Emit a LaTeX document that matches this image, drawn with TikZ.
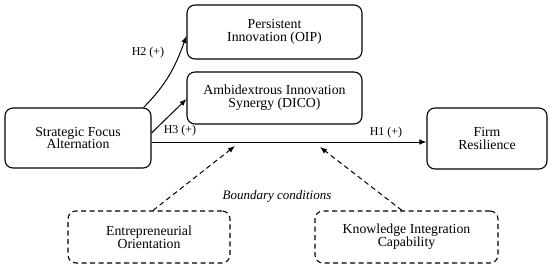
\documentclass[tikz,border=0pt]{standalone}
\usepackage{fontspec}
\setmainfont{Liberation Serif}
\usetikzlibrary{arrows.meta}
\begin{document}
\begin{tikzpicture}[x=1pt,y=-1pt,
  box/.style={draw,line width=1.1pt,rounded corners=8pt,align=center,inner sep=0pt,
    font=\fontsize{13.8}{12.8}\selectfont},
  dbox/.style={box,dash pattern=on 5pt off 3.5pt},
  arr/.style={line width=1pt,-{Latex[length=7pt,width=5.5pt]}},
  darr/.style={arr,dash pattern=on 5pt off 3.5pt},
  lab/.style={font=\fontsize{12}{12}\selectfont,inner sep=0pt}]
\useasboundingbox (0,0) rectangle (550,268);
\node[box,minimum width=146pt,minimum height=60pt] (sfa) at (78,138) {Strategic Focus\\Alternation};
\node[box,minimum width=175pt,minimum height=54pt] (oip) at (274.5,32) {Persistent\\Innovation (OIP)};
\node[box,minimum width=175pt,minimum height=52pt] (dico) at (274.5,98) {Ambidextrous Innovation\\Synergy (DICO)};
\node[box,minimum width=120pt,minimum height=61pt] (fr) at (487,138.5) {Firm\\Resilience};
\node[dbox,minimum width=162pt,minimum height=52pt] (eo) at (149,237) {Entrepreneurial\\Orientation};
\node[dbox,minimum width=183pt,minimum height=52pt] (kic) at (406.5,237) {Knowledge Integration\\Capability};
\node[font=\fontsize{13}{13}\selectfont\itshape,inner sep=0pt] (bc) at (277,196) {Boundary conditions};
\coordinate (t1) at (235,146);
\coordinate (t2) at (320,147);
\draw[arr] ([yshift=-4pt]sfa.east) -- ([yshift=-3.5pt]fr.west);
\draw[arr] ([xshift=-8pt]sfa.north east) to[out=45,in=-110] ([yshift=-4pt]oip.west);
\draw[arr] ([yshift=5pt]sfa.east) -- ([yshift=-1pt]dico.west);
\draw[darr] ([xshift=4pt]eo.north) -- (t1);
\draw[darr] ([xshift=-4.5pt]kic.north) -- (t2);
\node[lab] (h2) at (148,53) {H2 (+)};
\node[lab] (h3) at (180,131) {H3 (+)};
\node[lab] (h1) at (386,133) {H1 (+)};
\end{tikzpicture}
\end{document}
